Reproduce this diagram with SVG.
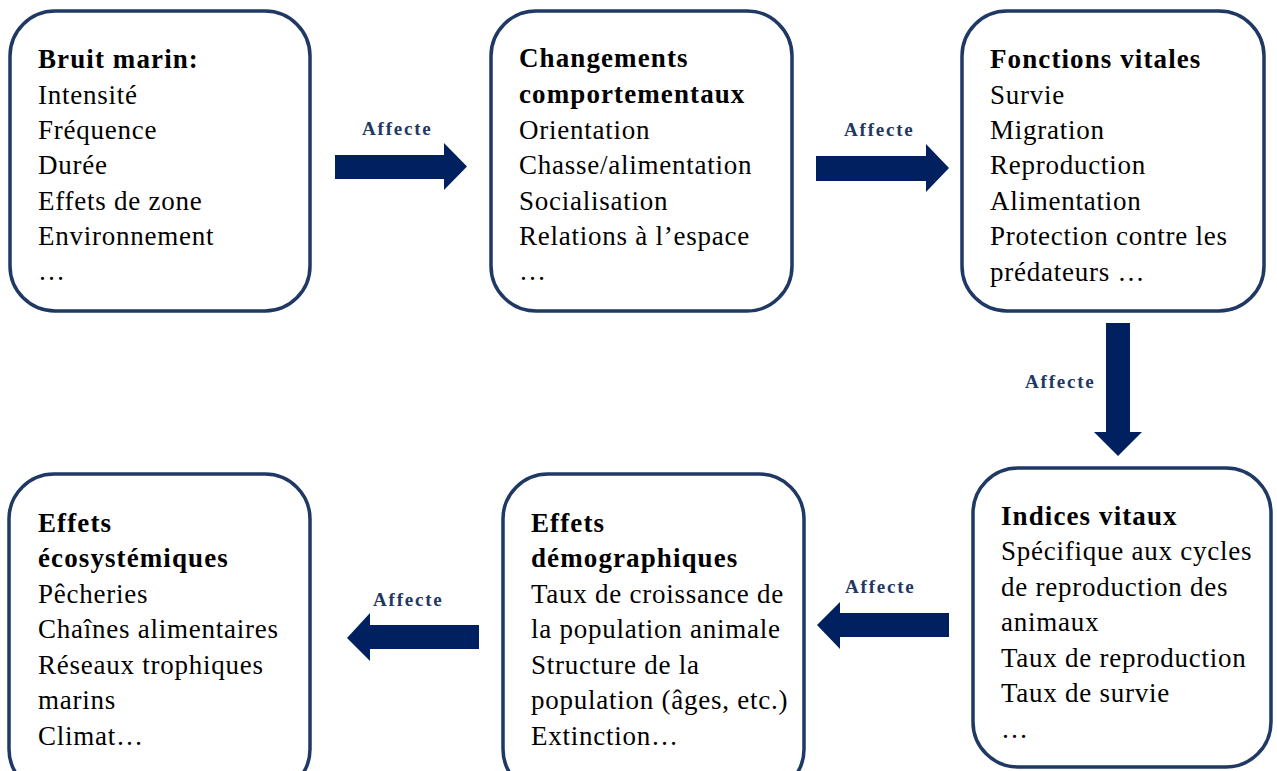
<svg xmlns="http://www.w3.org/2000/svg" width="1277" height="771" viewBox="0 0 1277 771">
<style>
.box{fill:#ffffff;stroke:#1f3864;stroke-width:3.5}
.t{font-family:"Liberation Serif","Times New Roman",serif;font-size:27px;fill:#000;letter-spacing:0.75px}
.b{font-weight:bold;letter-spacing:1.1px}
.lbl{font-family:"Liberation Serif","Times New Roman",serif;font-size:19px;font-weight:bold;fill:#1f3864;letter-spacing:1.8px}
.arr{fill:#002060}
</style>
<rect x="0" y="0" width="1277" height="771" fill="#ffffff"/>
<g id="connectors">
  <g id="c1"><polygon class="arr" points="335,155 444,155 444,143 467,166.5 444,190 444,179 335,179"/><text class="lbl" x="362" y="135">Affecte</text></g>
  <g id="c2"><polygon class="arr" points="816,156 926,156 926,144 949,168 926,192 926,181 816,181"/><text class="lbl" x="844" y="136">Affecte</text></g>
  <g id="c3"><polygon class="arr" points="1106,323 1130,323 1130,432 1142,432 1118,456 1094,432 1106,432"/><text class="lbl" x="1025" y="388">Affecte</text></g>
  <g id="c4"><polygon class="arr" points="949,613 840,613 840,602 817,625 840,649 840,637 949,637"/><text class="lbl" x="845" y="593">Affecte</text></g>
  <g id="c5"><polygon class="arr" points="479,625 370,625 370,613 347,638 370,661 370,649 479,649"/><text class="lbl" x="373" y="606">Affecte</text></g>
</g>
<g id="n1">
  <rect class="box" x="10" y="11" width="300" height="300" rx="45"/>
  <text class="t"><tspan class="b" x="38" y="68">Bruit marin:</tspan><tspan x="38" y="104">Intensité</tspan><tspan x="38" y="139">Fréquence</tspan><tspan x="38" y="174">Durée</tspan><tspan x="38" y="210">Effets de zone</tspan><tspan x="38" y="245">Environnement</tspan><tspan x="38" y="280">…</tspan></text>
</g>
<g id="n2">
  <rect class="box" x="491" y="11" width="301" height="300" rx="45"/>
  <text class="t"><tspan class="b" x="519" y="67">Changements</tspan><tspan class="b" x="519" y="103">comportementaux</tspan><tspan x="519" y="139">Orientation</tspan><tspan x="519" y="174">Chasse/alimentation</tspan><tspan x="519" y="210">Socialisation</tspan><tspan x="519" y="245">Relations à l’espace</tspan><tspan x="519" y="280">…</tspan></text>
</g>
<g id="n3">
  <rect class="box" x="962" y="11" width="302" height="300" rx="45"/>
  <text class="t"><tspan class="b" x="990" y="68">Fonctions vitales</tspan><tspan x="990" y="104">Survie</tspan><tspan x="990" y="139">Migration</tspan><tspan x="990" y="174">Reproduction</tspan><tspan x="990" y="210">Alimentation</tspan><tspan x="990" y="245">Protection contre les</tspan><tspan x="990" y="281">prédateurs …</tspan></text>
</g>
<g id="n4">
  <rect class="box" x="973" y="468" width="298" height="299" rx="45"/>
  <text class="t"><tspan class="b" x="1001" y="525">Indices vitaux</tspan><tspan x="1001" y="560">Spécifique aux cycles</tspan><tspan x="1001" y="596">de reproduction des</tspan><tspan x="1001" y="631">animaux</tspan><tspan x="1001" y="667">Taux de reproduction</tspan><tspan x="1001" y="702">Taux de survie</tspan><tspan x="1001" y="738">…</tspan></text>
</g>
<g id="n5">
  <rect class="box" x="503" y="474" width="301" height="320" rx="45"/>
  <text class="t"><tspan class="b" x="531" y="532">Effets</tspan><tspan class="b" x="531" y="567">démographiques</tspan><tspan x="531" y="603">Taux de croissance de</tspan><tspan x="531" y="638">la population animale</tspan><tspan x="531" y="674">Structure de la</tspan><tspan x="531" y="709">population (âges, etc.)</tspan><tspan x="531" y="745">Extinction…</tspan></text>
</g>
<g id="n6">
  <rect class="box" x="9" y="474" width="301" height="320" rx="45"/>
  <text class="t"><tspan class="b" x="38" y="532">Effets</tspan><tspan class="b" x="38" y="567">écosystémiques</tspan><tspan x="38" y="603">Pêcheries</tspan><tspan x="38" y="638">Chaînes alimentaires</tspan><tspan x="38" y="674">Réseaux trophiques</tspan><tspan x="38" y="709">marins</tspan><tspan x="38" y="745">Climat…</tspan></text>
</g>
</svg>
